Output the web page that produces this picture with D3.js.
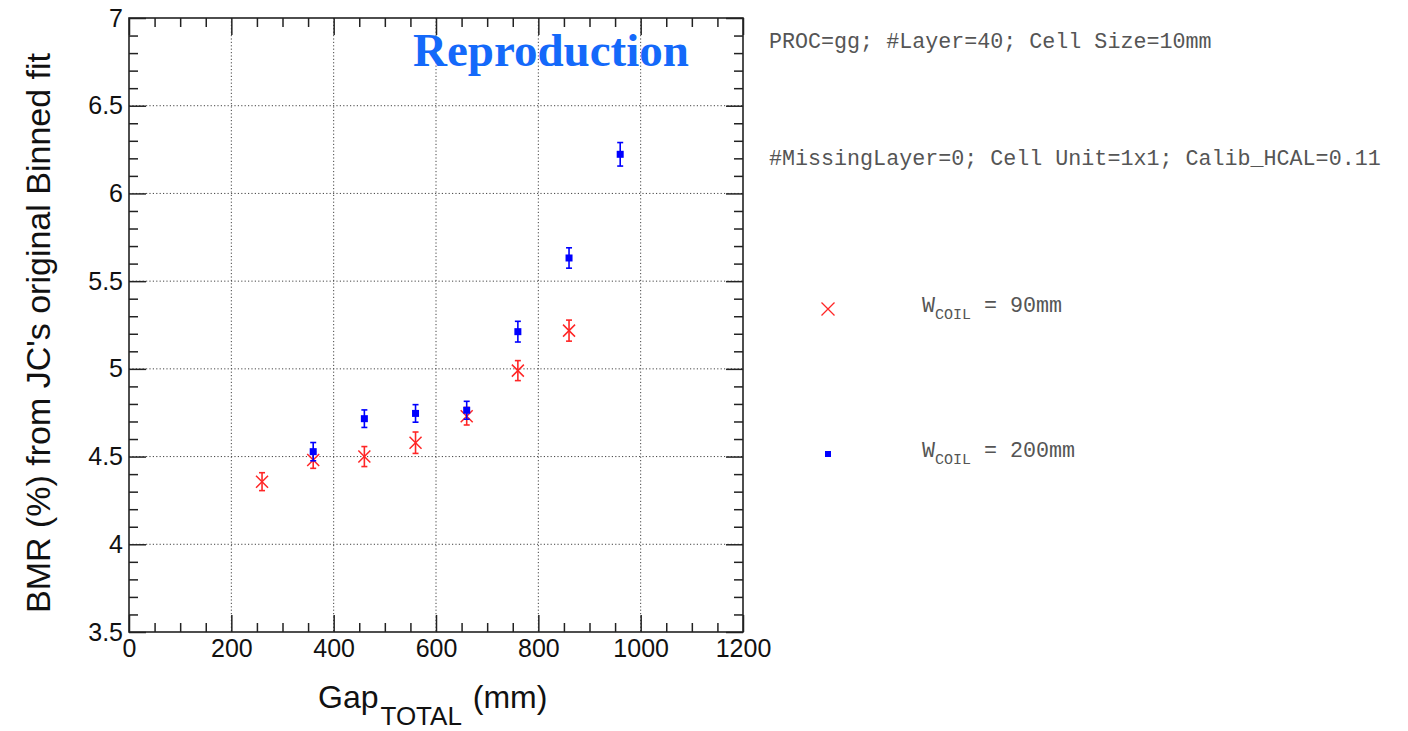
<!DOCTYPE html>
<html>
<head>
<meta charset="utf-8">
<script src="https://cdn.jsdelivr.net/npm/d3@7"></script>
<style>
  html, body { margin: 0; padding: 0; background: #fff; }
  svg { display: block; }
</style>
</head>
<body>
<svg id="chart" width="1408" height="731"></svg>
<script>
// ---------------- data ----------------
const xTicks = [0, 200, 400, 600, 800, 1000, 1200];
const yTicks = [3.5, 4, 4.5, 5, 5.5, 6, 6.5, 7];
const seriesNames = ["90mm", "200mm"];

const gapRed = [260, 360, 460, 560, 660, 760, 860];
const bmrRed = [4.357, 4.48, 4.50, 4.579, 4.73, 4.99, 5.218];
const errRed = [0.051, 0.047, 0.057, 0.061, 0.05, 0.057, 0.06];

const gapBlue = [360, 460, 560, 660, 760, 860, 960];
const bmrBlue = [4.528, 4.716, 4.746, 4.764, 5.212, 5.632, 6.223];
const errBlue = [0.052, 0.05, 0.05, 0.051, 0.059, 0.058, 0.067];

const infoLines = [
  "PROC=gg; #Layer=40; Cell Size=10mm",
  "#MissingLayer=0; Cell Unit=1x1; Calib_HCAL=0.11"
];
const titleText = "Reproduction";
const yLabel = "BMR (%) from JC's original Binned fit";

// ---------------- layout ----------------
const L = 129, R = 743, T = 18, B = 632;
const svg = d3.select("#chart");
const x = d3.scaleLinear().domain([0, 1200]).range([L, R]);
const y = d3.scaleLinear().domain([3.5, 7]).range([B, T]);

const axisColor = "#222";
const RED = "#ff2626", BLUE = "#0000ff";
const majorLen = 17, minorLen = 9;

const xMinor = d3.range(0, 1201, 50).filter(v => v % 200 !== 0);
const yMinor = d3.range(35, 71, 1).map(v => v / 10).filter(v => Math.round(v * 10) % 5 !== 0);

// grid
const grid = svg.append("g").attr("stroke", "#444").attr("stroke-width", 1)
  .attr("stroke-dasharray", "1.2,2.2");
grid.selectAll(".gx").data(xTicks.slice(1, -1)).join("line")
  .attr("x1", d => x(d)).attr("x2", d => x(d)).attr("y1", T).attr("y2", B);
grid.selectAll(".gy").data(yTicks.slice(1, -1)).join("line")
  .attr("x1", L).attr("x2", R).attr("y1", d => y(d)).attr("y2", d => y(d));

// axes
function styleAxis(g) {
  g.select(".domain").remove();
  g.selectAll(".tick line").attr("stroke", axisColor).attr("stroke-width", 1.5);
  g.selectAll("text").attr("font-family", "Liberation Sans, Arial, sans-serif")
    .attr("font-size", 25).attr("fill", "#111");
}
svg.append("g").attr("transform", `translate(0,${B})`)
  .call(d3.axisBottom(x).tickValues(xTicks).tickFormat(d3.format("d")).tickSize(-majorLen).tickPadding(7))
  .call(styleAxis);
svg.append("g").attr("transform", `translate(0,${B})`)
  .call(d3.axisBottom(x).tickValues(xMinor).tickFormat("").tickSize(-minorLen)).call(styleAxis);
svg.append("g").attr("transform", `translate(0,${T})`)
  .call(d3.axisTop(x).tickValues(xTicks).tickFormat("").tickSize(-majorLen)).call(styleAxis);
svg.append("g").attr("transform", `translate(0,${T})`)
  .call(d3.axisTop(x).tickValues(xMinor).tickFormat("").tickSize(-minorLen)).call(styleAxis);

svg.append("g").attr("transform", `translate(${L},0)`)
  .call(d3.axisLeft(y).tickValues(yTicks).tickFormat(d3.format("~g")).tickSize(-majorLen).tickPadding(6))
  .call(styleAxis);
svg.append("g").attr("transform", `translate(${L},0)`)
  .call(d3.axisLeft(y).tickValues(yMinor).tickFormat("").tickSize(-minorLen)).call(styleAxis);
svg.append("g").attr("transform", `translate(${R},0)`)
  .call(d3.axisRight(y).tickValues(yTicks).tickFormat("").tickSize(-majorLen)).call(styleAxis);
svg.append("g").attr("transform", `translate(${R},0)`)
  .call(d3.axisRight(y).tickValues(yMinor).tickFormat("").tickSize(-minorLen)).call(styleAxis);

// frame
svg.append("rect").attr("x", L).attr("y", T).attr("width", R - L).attr("height", B - T)
  .attr("fill", "none").attr("stroke", axisColor).attr("stroke-width", 1.6);

// axis titles
svg.append("text")
  .attr("transform", `translate(50,${(T + B) / 2 + 8}) rotate(-90)`)
  .attr("text-anchor", "middle")
  .attr("font-family", "Liberation Sans, Arial, sans-serif").attr("font-size", 34)
  .attr("fill", "#111").text(yLabel);

const xt = svg.append("text").attr("x", 318).attr("y", 708)
  .attr("font-family", "Liberation Sans, Arial, sans-serif").attr("font-size", 32).attr("fill", "#111");
xt.append("tspan").text("Gap");
xt.append("tspan").attr("font-size", 26).attr("dx", 2).attr("dy", 17).text("TOTAL");
xt.append("tspan").attr("dy", -17).attr("dx", 2).text(" (mm)");

// title
svg.append("text").attr("x", 413).attr("y", 66)
  .attr("font-family", "Liberation Serif, Times New Roman, serif").attr("font-weight", "bold")
  .attr("font-size", 47).attr("fill", "#1469fa").text(titleText);

// info text
svg.selectAll(".info").data(infoLines).join("text")
  .attr("x", 769).attr("y", (d, i) => i === 0 ? 48 : 165)
  .attr("font-family", "Liberation Mono, Courier New, monospace").attr("font-size", 21.7)
  .attr("fill", "#555").text(d => d);

// error bars
function errorBars(xs, ys, es, color) {
  const g = svg.append("g").attr("stroke", color).attr("stroke-width", 1.6);
  const data = xs.map((v, i) => ({ x: v, y: ys[i], e: es[i] }));
  g.selectAll(".eb").data(data).join("line")
    .attr("x1", d => x(d.x)).attr("x2", d => x(d.x))
    .attr("y1", d => y(d.y - d.e)).attr("y2", d => y(d.y + d.e));
  g.selectAll(".c1").data(data).join("line")
    .attr("x1", d => x(d.x) - 3).attr("x2", d => x(d.x) + 3)
    .attr("y1", d => y(d.y + d.e)).attr("y2", d => y(d.y + d.e));
  g.selectAll(".c2").data(data).join("line")
    .attr("x1", d => x(d.x) - 3).attr("x2", d => x(d.x) + 3)
    .attr("y1", d => y(d.y - d.e)).attr("y2", d => y(d.y - d.e));
  return data;
}
function crossPath(cx, cy, s) {
  return `M${cx - s},${cy - s}L${cx + s},${cy + s}M${cx - s},${cy + s}L${cx + s},${cy - s}`;
}

const redData = errorBars(gapRed, bmrRed, errRed, RED);
svg.append("g").selectAll("path").data(redData).join("path")
  .attr("d", d => crossPath(x(d.x), y(d.y), 6))
  .attr("stroke", RED).attr("stroke-width", 1.5).attr("fill", "none");

const blueData = errorBars(gapBlue, bmrBlue, errBlue, BLUE);
svg.append("g").selectAll("rect").data(blueData).join("rect")
  .attr("x", d => x(d.x) - 3.5).attr("y", d => y(d.y) - 3.5)
  .attr("width", 7).attr("height", 7).attr("fill", BLUE);

// legend
const legY = [309, 454];
svg.append("path").attr("d", crossPath(828, legY[0], 6.5))
  .attr("stroke", RED).attr("stroke-width", 1.3).attr("fill", "none");
svg.append("rect").attr("x", 825).attr("y", legY[1] - 3).attr("width", 6).attr("height", 6).attr("fill", BLUE);

seriesNames.forEach((name, i) => {
  const by = legY[i] + 3;
  const g = svg.append("g").attr("font-family", "Liberation Mono, Courier New, monospace").attr("fill", "#555");
  g.append("text").attr("x", 922).attr("y", by).attr("font-size", 21.7).text("W");
  g.append("text").attr("x", 935).attr("y", by + 7).attr("font-size", 15).text("COIL");
  g.append("text").attr("x", 984).attr("y", by).attr("font-size", 21.7).text("= " + name);
});
</script>
</body>
</html>
